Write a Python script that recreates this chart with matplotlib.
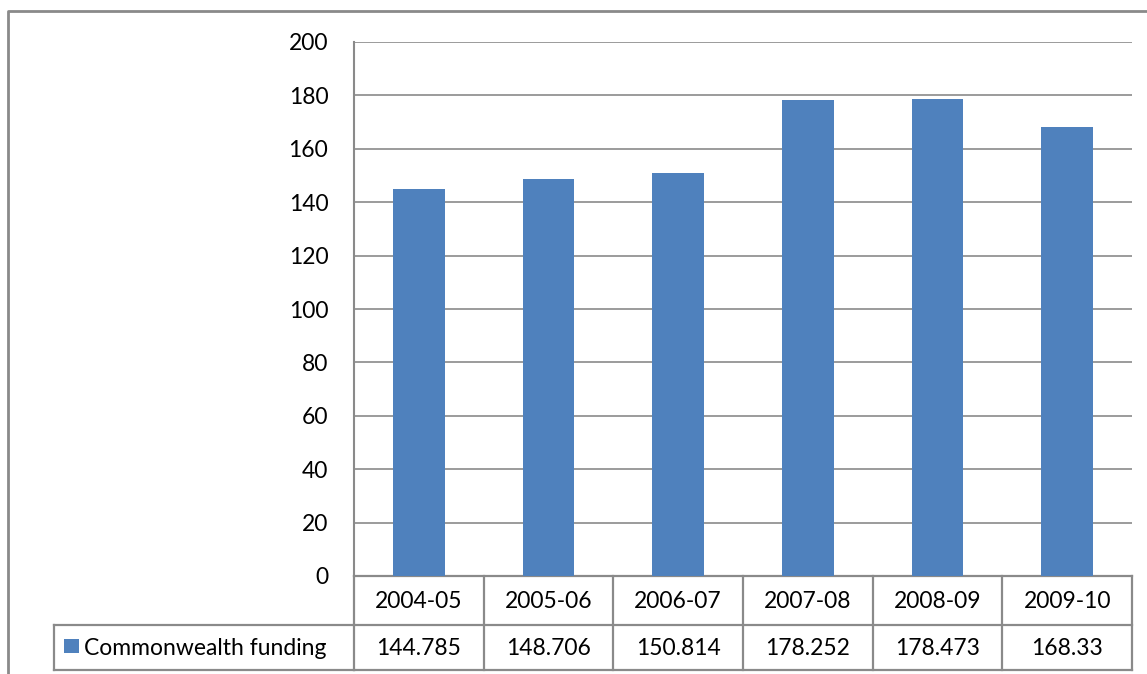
import matplotlib.pyplot as plt
import matplotlib.transforms as mtransforms
from matplotlib.lines import Line2D
from matplotlib.patches import Rectangle

years = ['2004-05', '2005-06', '2006-07', '2007-08', '2008-09', '2009-10']
funding = [144.785, 148.706, 150.814, 178.252, 178.473, 168.33]
funding_labels = ['144.785', '148.706', '150.814', '178.252', '178.473', '168.33']
series_name = 'Commonwealth funding'

W, H = 1147, 674
bar_color = '#4f81bd'
line_color = '#8a8a8a'
fs = 16.5
plt.rcParams['font.family'] = ['Lato', 'DejaVu Sans']

fig = plt.figure(figsize=(W / 100, H / 100), dpi=100)
# plot area in pixels: left 354, right 1132, top 42, bottom 576
ax = fig.add_axes([354 / W, 1 - 576 / H, (1132 - 354) / W, (576 - 42) / H])

x = list(range(len(years)))
ax.bar(x, funding, width=0.4, color=bar_color, zorder=3)
ax.set_xlim(-0.5, len(years) - 0.5)
ax.set_ylim(0, 200)
ax.set_yticks(range(0, 201, 20))
ax.yaxis.grid(True, color=line_color, linewidth=1.2, zorder=0)
ax.tick_params(axis='y', length=0, pad=18.5, labelsize=fs)
ax.set_xticks([])
for side in ['top', 'right', 'bottom']:
    ax.spines[side].set_visible(False)
ax.spines['left'].set_color(line_color)
ax.spines['left'].set_linewidth(1.5)

# pixel coordinates measured from the top-left corner
px = mtransforms.Affine2D().scale(1, -1).translate(0, H)
# data table below the plot: x in data units, y in pixels
trans = mtransforms.blended_transform_factory(ax.transData, px)

row_top, row_mid, row_bot = 576, 625, 670
lw = 1.6
for i in range(len(years) + 1):
    ax.add_line(Line2D([i - 0.5, i - 0.5], [row_top, row_bot], transform=trans,
                       color=line_color, linewidth=lw, clip_on=False))
for yy in [row_top, row_mid, row_bot]:
    ax.add_line(Line2D([-0.5, len(years) - 0.5], [yy, yy], transform=trans,
                       color=line_color, linewidth=lw, clip_on=False))
for i, (yr, lab) in enumerate(zip(years, funding_labels)):
    ax.text(i, (row_top + row_mid) / 2 + 1, yr, transform=trans, ha='center', va='center',
            fontsize=fs, clip_on=False)
    ax.text(i, (row_mid + row_bot) / 2 + 1, lab, transform=trans, ha='center', va='center',
            fontsize=fs, clip_on=False)

# legend cell of the table
fig.add_artist(Line2D([54, 354], [row_mid, row_mid], transform=px, color=line_color, linewidth=lw))
fig.add_artist(Line2D([54, 354], [row_bot, row_bot], transform=px, color=line_color, linewidth=lw))
fig.add_artist(Line2D([54, 54], [row_mid, row_bot], transform=px, color=line_color, linewidth=lw))
fig.add_artist(Rectangle((64, 653), 15, -14, transform=px, facecolor=bar_color, edgecolor='none'))
fig.text(84, (row_mid + row_bot) / 2 + 1, series_name, transform=px, ha='left', va='center',
         fontsize=fs)

# outer chart frame (runs off the right and bottom edges)
fig.add_artist(Line2D([8, 8, W + 5], [H + 5, 11, 11], transform=px, color=line_color, linewidth=2))

fig.savefig('out.png', dpi=100)
